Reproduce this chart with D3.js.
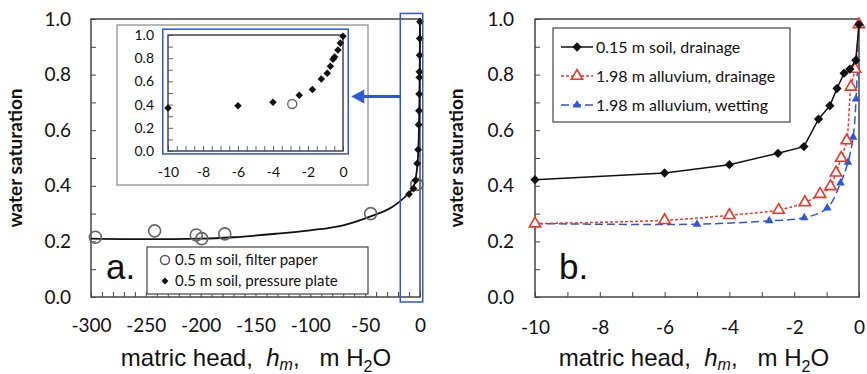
<!DOCTYPE html>
<html>
<head>
<meta charset="utf-8">
<script src="https://cdn.jsdelivr.net/npm/d3@7"></script>
<style>
  body { margin: 0; background: #fff; }
  svg { display: block; }
  .tick text { font-family: Lato, sans-serif; fill: #111; }
  .title { font-family: "Liberation Sans", Arial, sans-serif; fill: #111; }
</style>
</head>
<body>
<svg id="chart" width="867" height="374"></svg>
<script>
// panel a: filter paper (open circles)
const filterH = [-296, -242, -204, -199, -178, -45, -2.9]
const filterS = [0.215, 0.238, 0.223, 0.21, 0.227, 0.30, 0.405]
// panel a: pressure plate (diamonds)
const plateH = [-10, -6, -4, -2.5, -1.75, -1.24, -0.9, -0.72, -0.57, -0.48, -0.29, -0.15, 0]
const plateS = [0.37, 0.39, 0.42, 0.48, 0.53, 0.62, 0.67, 0.73, 0.79, 0.81, 0.87, 0.93, 0.99]
// panel a: fitted curve
const fitH = [-300, -250, -200, -170, -130, -100, -70, -45, -25, -18, -10, -6, -4, -2.5, -1.5, -1, -0.5, -0.2, 0]
const fitS = [0.21, 0.208, 0.21, 0.215, 0.228, 0.24, 0.258, 0.29, 0.325, 0.345, 0.375, 0.395, 0.425, 0.47, 0.53, 0.6, 0.72, 0.86, 1.0]

// panel b
const soilH = [-10, -6, -4, -2.5, -1.7, -1.25, -0.9, -0.68, -0.46, -0.28, -0.1, 0]
const soilS = [0.422, 0.446, 0.476, 0.517, 0.541, 0.64, 0.688, 0.75, 0.805, 0.82, 0.852, 0.98]
const drainH = [-10, -6, -4, -2.48, -1.67, -1.2, -0.88, -0.71, -0.55, -0.38, -0.25, -0.12, 0]
const drainS = [0.264, 0.276, 0.294, 0.313, 0.34, 0.37, 0.398, 0.447, 0.50, 0.563, 0.756, 0.82, 0.98]
const wetH = [-10, -5, -2.77, -1.69, -0.98, -0.57, -0.34, -0.18, -0.09, 0]
const wetS = [0.264, 0.262, 0.274, 0.285, 0.32, 0.41, 0.485, 0.575, 0.712, 0.985]

const legendA = ['0.5 m soil, filter paper', '0.5 m soil, pressure plate']
const legendB = ['0.15 m soil, drainage', '1.98 m alluvium, drainage', '1.98 m alluvium, wetting']

const blue = '#2f55d8', red = '#e8392b', frame = '#444'
const svg = d3.select('#chart')
const zip = (a, b) => a.map((v, i) => [v, b[i]])
const diamond = d3.symbol().type(d3.symbolDiamond2)
const tri = d3.symbol().type(d3.symbolTriangle)

function frameAxes(g, x, y, xStep, xLabelStep, yStep, fs, padY, padX) {
    const [x0, x1] = x.range(), [y0, y1] = y.range()
    const yVals = d3.range(0, 10.5, yStep * 10).map(v => v / 10)
    g.append('g')
        .attr('transform', `translate(${x0},0)`)
        .call(d3.axisLeft(y).tickValues(yVals).tickSize(-5).tickPadding(padY)
            .tickFormat(d => Math.round(d * 10) % 2 === 0 ? d3.format('.1f')(d) : ''))
        .call(a => a.select('.domain').remove())
        .call(a => a.selectAll('line').attr('stroke', frame))
        .call(a => a.selectAll('text').style('font-size', fs + 'px'))
    const [d0, d1] = x.domain()
    const xVals = d3.range(d0, d1 + xStep / 2, xStep)
    g.append('g')
        .attr('transform', `translate(0,${y0})`)
        .call(d3.axisBottom(x).tickValues(xVals).tickSize(-5).tickPadding(padX)
            .tickFormat(d => Math.abs(d % xLabelStep) < 1e-9 ? d : ''))
        .call(a => a.select('.domain').remove())
        .call(a => a.selectAll('line').attr('stroke', frame))
        .call(a => a.selectAll('text').style('font-size', fs + 'px'))
    g.append('rect')
        .attr('x', x0).attr('y', y1)
        .attr('width', x1 - x0).attr('height', y0 - y1)
        .attr('fill', 'none').attr('stroke', frame).attr('stroke-width', 1.5)
}

function titles(cx, yTitleX) {
    const t = svg.append('text').attr('class', 'title')
        .attr('x', cx).attr('y', 366)
        .attr('text-anchor', 'middle')
        .style('font-size', '24px')
        .style('white-space', 'pre')
    t.append('tspan').text('matric head,  ')
    t.append('tspan').style('font-style', 'italic').text('h')
    t.append('tspan').style('font-style', 'italic').style('font-size', '16px').attr('dy', 4).text('m')
    t.append('tspan').attr('dy', -4).text(',   m H')
    t.append('tspan').style('font-size', '16px').attr('dy', 6).text('2')
    t.append('tspan').attr('dy', -6).text('O')

    svg.append('text')
        .attr('transform', `translate(${yTitleX},158) rotate(-90)`)
        .attr('text-anchor', 'middle')
        .style('font-family', 'Lato, sans-serif')
        .style('font-weight', 'bold')
        .style('font-size', '19px')
        .attr('fill', '#111')
        .text('water saturation')
}

// ---------- panel a ----------
const xa = d3.scaleLinear().domain([-300, 0]).range([91, 420])
const ya = d3.scaleLinear().domain([0, 1]).range([297, 19])
const ga = svg.append('g')
frameAxes(ga, xa, ya, 10, 50, 0.1, 19, 20, 22)
titles(256, 22)

ga.append('path')
    .datum(zip(fitH, fitS))
    .attr('fill', 'none').attr('stroke', '#111').attr('stroke-width', 1.8)
    .attr('d', d3.line().x(d => xa(d[0])).y(d => ya(d[1])).curve(d3.curveMonotoneX))

ga.selectAll('circle.fp')
    .data(zip(filterH, filterS))
    .join('circle').attr('class', 'fp')
    .attr('cx', d => xa(d[0])).attr('cy', d => ya(d[1])).attr('r', 6)
    .attr('fill', 'none').attr('stroke', '#666').attr('stroke-width', 1.6)

ga.selectAll('path.pp')
    .data(zip(plateH, plateS))
    .join('path').attr('class', 'pp')
    .attr('transform', d => `translate(${xa(d[0])},${ya(d[1])})`)
    .attr('d', diamond.size(40)).attr('fill', '#111')

// blue highlight box around the near-zero region
ga.append('rect')
    .attr('x', xa(-18)).attr('y', ya(1.02))
    .attr('width', xa(2.5) - xa(-18)).attr('height', ya(-0.018) - ya(1.02))
    .attr('fill', 'none').attr('stroke', blue).attr('stroke-width', 1.5)

// legend a
const la = ga.append('g').attr('transform', 'translate(147,247)')
la.append('rect').attr('width', 221).attr('height', 47)
    .attr('fill', '#fff').attr('stroke', frame).attr('stroke-width', 1.2)
la.append('circle').attr('cx', 18).attr('cy', 13).attr('r', 4.5)
    .attr('fill', 'none').attr('stroke', '#555').attr('stroke-width', 1.4)
la.append('path').attr('transform', 'translate(18,34)').attr('d', diamond.size(30)).attr('fill', '#111')
la.selectAll('text').data(legendA).join('text')
    .attr('x', 28).attr('y', (d, i) => 13 + i * 21).attr('dy', '0.35em')
    .style('font-family', 'Lato, sans-serif').style('font-size', '15px').attr('fill', '#111')
    .text(d => d)

svg.append('text')
    .attr('x', 106).attr('y', 279)
    .attr('class', 'title').style('font-size', '35px')
    .text('a.')

// inset
const xi = d3.scaleLinear().domain([-10, 0]).range([168, 343])
const yi = d3.scaleLinear().domain([0, 1]).range([151, 35])
const gi = svg.append('g')
gi.append('rect').attr('x', 117).attr('y', 25).attr('width', 251).attr('height', 160)
    .attr('fill', '#fff').attr('stroke', '#888').attr('stroke-width', 1.2)
frameAxes(gi, xi, yi, 0.5, 2, 0.1, 14, 14, 16)
gi.selectAll('.tick line').attr('stroke', '#666')
gi.append('rect').attr('x', xi(-10.3)).attr('y', yi(1.05))
    .attr('width', xi(0.3) - xi(-10.3)).attr('height', yi(-0.025) - yi(1.05))
    .attr('fill', 'none').attr('stroke', blue).attr('stroke-width', 1.5)
gi.selectAll('path.pi')
    .data(zip(plateH, plateS))
    .join('path').attr('class', 'pi')
    .attr('transform', d => `translate(${xi(d[0])},${yi(d[1])})`)
    .attr('d', diamond.size(36)).attr('fill', '#111')
gi.selectAll('circle.fi')
    .data(zip(filterH, filterS).filter(d => d[0] >= -10))
    .join('circle').attr('class', 'fi')
    .attr('cx', d => xi(d[0])).attr('cy', d => yi(d[1])).attr('r', 4.5)
    .attr('fill', 'none').attr('stroke', '#666').attr('stroke-width', 1.4)

// arrow from box to inset
const ay = yi(0.47)
svg.append('line').attr('x1', xa(-18)).attr('x2', xi(0.3) + 10)
    .attr('y1', ay).attr('y2', ay)
    .attr('stroke', blue).attr('stroke-width', 3)
svg.append('path')
    .attr('d', `M${xi(0.3) + 3},${ay} l13,-7 l0,14 z`)
    .attr('fill', blue)

// ---------- panel b ----------
const xb = d3.scaleLinear().domain([-10, 0]).range([535, 859])
const yb = d3.scaleLinear().domain([0, 1]).range([297, 19])
const gb = svg.append('g')
frameAxes(gb, xb, yb, 1, 2, 0.1, 19, 21, 24)
titles(694, 463)

const series = [
    { h: wetH, s: wetS, color: blue, dash: '8,4', curve: d3.curveCatmullRom, marker: 'wet' },
    { h: drainH, s: drainS, color: red, dash: '3,2', curve: d3.curveCatmullRom, marker: 'drain' },
    { h: soilH, s: soilS, color: '#111', dash: null, curve: d3.curveLinear, marker: 'soil' }
]

function drawMarker(sel, m, color) {
    if (m === 'soil') sel.attr('d', diamond.size(55)).attr('fill', color)
    else if (m === 'drain') sel.attr('d', tri.size(55)).attr('fill', '#fff')
        .attr('stroke', color).attr('stroke-width', 1.6)
    else sel.attr('d', tri.size(32)).attr('fill', color)
}

series.forEach(sr => {
    gb.append('path')
        .datum(zip(sr.h, sr.s))
        .attr('fill', 'none').attr('stroke', sr.color).attr('stroke-width', 1.5)
        .attr('stroke-dasharray', sr.dash)
        .attr('d', d3.line().x(d => xb(d[0])).y(d => yb(d[1])).curve(sr.curve))
    gb.selectAll('path.m-' + sr.marker)
        .data(zip(sr.h, sr.s))
        .join('path').attr('class', 'm-' + sr.marker)
        .attr('transform', d => `translate(${xb(d[0])},${yb(d[1])})`)
        .call(drawMarker, sr.marker, sr.color)
})

// legend b
const lb = gb.append('g').attr('transform', 'translate(553,28)')
lb.append('rect').attr('width', 237).attr('height', 94)
    .attr('fill', '#fff').attr('stroke', frame).attr('stroke-width', 1.2)
const legendSeries = [series[2], series[1], series[0]]
legendSeries.forEach((sr, i) => {
    const cy = 19 + i * 29
    lb.append('line').attr('x1', 8).attr('x2', 40).attr('y1', cy).attr('y2', cy)
        .attr('stroke', sr.color).attr('stroke-width', 1.5).attr('stroke-dasharray', sr.dash)
    lb.append('path').attr('transform', `translate(24,${cy})`).call(drawMarker, sr.marker, sr.color)
    lb.append('text').attr('x', 43).attr('y', cy).attr('dy', '0.35em')
        .style('font-family', 'Lato, sans-serif').style('font-size', '16px').attr('fill', '#111')
        .text(legendB[i])
})

svg.append('text')
    .attr('x', 559).attr('y', 279)
    .attr('class', 'title').style('font-size', '35px')
    .text('b.')
</script>
</body>
</html>
